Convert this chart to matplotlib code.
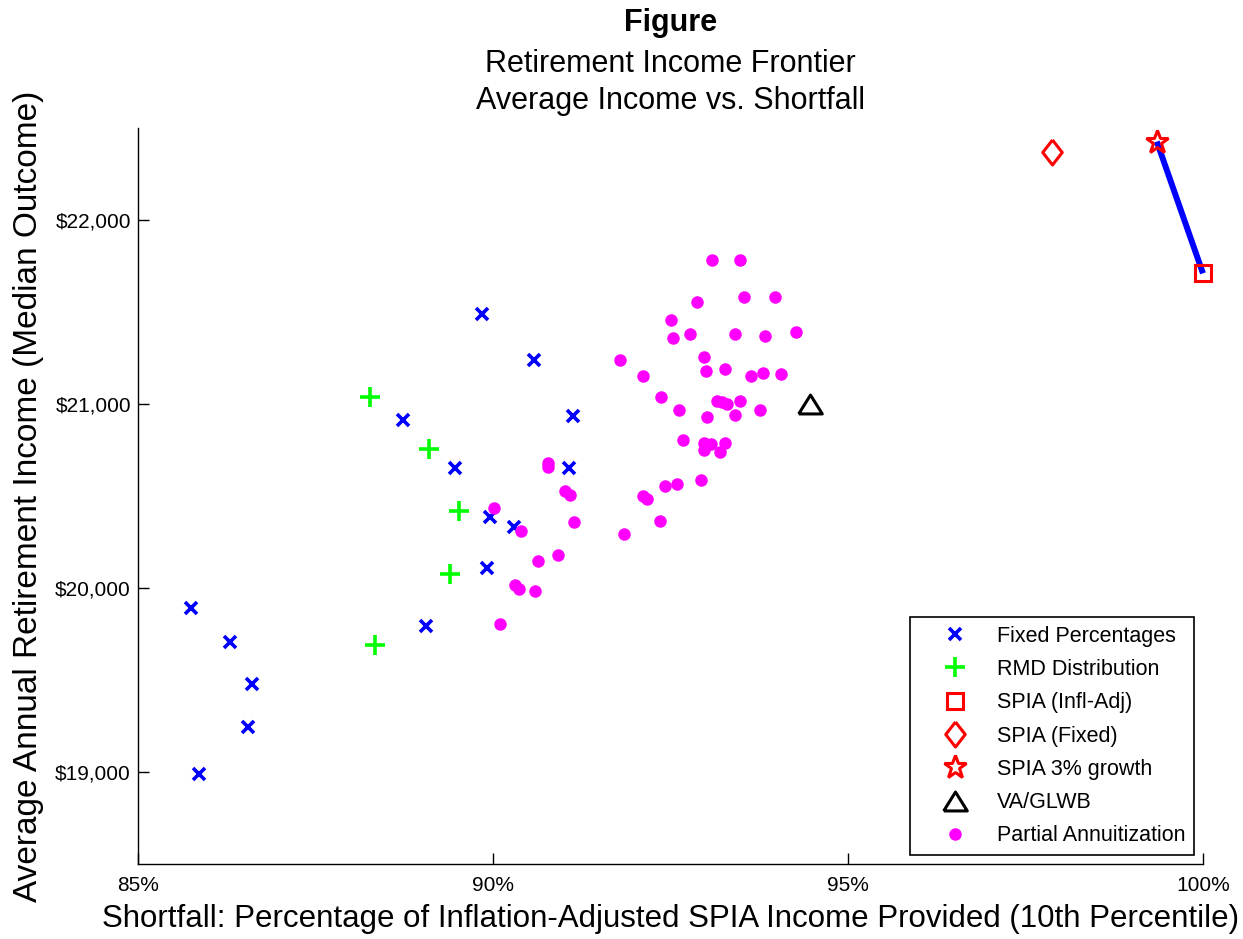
import numpy as np
import matplotlib
matplotlib.use("Agg")
import matplotlib.pyplot as plt

#-------data (x: % of infl-adj SPIA income, y: avg income $)-------
fixed_x = [85.74, 86.30, 86.60, 86.55, 85.86, 89.84, 90.58, 91.13, 88.73,
           89.47, 91.07, 89.96, 90.30, 89.91, 89.05]
fixed_y = [19890, 19708, 19477, 19246, 18989, 21489, 21239, 20935, 20913,
           20654, 20654, 20384, 20333, 20110, 19794]

rmd_x = [88.27, 89.10, 89.52, 89.40, 88.34]
rmd_y = [21040, 20754, 20419, 20074, 19689]

spia_infl_x, spia_infl_y = [100.0], [21710]
spia_fixed_x, spia_fixed_y = [97.87], [22371]
spia_grow_x, spia_grow_y = [99.35], [22426]
va_x, va_y = [94.47], [20998]

partial_x = [93.09, 93.48, 92.88, 93.53, 93.97, 92.51, 92.54, 92.77, 93.41,
             93.83, 94.27, 91.79, 92.97, 93.00, 93.27, 92.12, 93.64, 93.81,
             94.06, 92.37, 93.15, 93.22, 93.30, 93.48, 92.62, 93.02, 93.41,
             93.76, 92.67, 92.97, 93.07, 92.97, 93.27, 93.20, 92.93, 92.42,
             92.59, 92.11, 92.17, 92.35, 91.84, 90.78, 90.78, 91.02, 91.08,
             91.14, 90.92, 90.63, 90.31, 90.37, 90.59, 90.10, 90.01, 90.40]
partial_y = [21783, 21783, 21553, 21582, 21582, 21455, 21360, 21381, 21381,
             21371, 21390, 21238, 21254, 21179, 21190, 21152, 21152, 21170,
             21161, 21037, 21018, 21009, 21000, 21016, 20969, 20931, 20940,
             20969, 20806, 20790, 20781, 20750, 20790, 20738, 20587, 20556,
             20564, 20500, 20482, 20366, 20292, 20680, 20655, 20529, 20507,
             20360, 20179, 20147, 20016, 19995, 19982, 19803, 20433, 20310]

xticks = [85, 90, 95, 100]
yticks = [19000, 20000, 21000, 22000]

#-------style-------
plt.rcParams['font.family'] = ['Liberation Sans', 'DejaVu Sans']
BLUE = (0, 0, 1)
GREEN = (0, 1, 0)
RED = (1, 0, 0)
MAGENTA = (1, 0, 1)

diamond = [(0, 1), (0.78, 0), (0, -1), (-0.78, 0), (0, 1)]
triangle = [(-1, -0.8), (1, -0.8), (0, 0.8), (-1, -0.8)]

#-------graph-------
fig = plt.figure(figsize=(12.43, 9.39), dpi=100)
ax = fig.add_axes([0.1110, 0.0799, 0.8568, 0.7838])

# line joining the 3% growth SPIA and the inflation-adjusted SPIA
ax.plot(spia_grow_x + spia_infl_x, spia_grow_y + spia_infl_y,
        color=BLUE, linewidth=4.3, solid_capstyle='butt', zorder=2,
        clip_on=False)

ax.plot(fixed_x, fixed_y, linestyle='none', marker='x', markersize=9,
        markeredgewidth=2.6, color=BLUE, label='Fixed Percentages', zorder=3)
ax.plot(rmd_x, rmd_y, linestyle='none', marker='+', markersize=14,
        markeredgewidth=2.6, color=GREEN, label='RMD Distribution', zorder=3)
ax.plot(spia_infl_x, spia_infl_y, linestyle='none', marker='s',
        markersize=11.5, markeredgewidth=2.2, markerfacecolor='none',
        markeredgecolor=RED, label='SPIA (Infl-Adj)', zorder=3,
        clip_on=False)
ax.plot(spia_fixed_x, spia_fixed_y, linestyle='none', marker=diamond,
        markersize=18, markeredgewidth=2.2, markerfacecolor='none',
        markeredgecolor=RED, label='SPIA (Fixed)', zorder=3, clip_on=False)
ax.plot(spia_grow_x, spia_grow_y, linestyle='none', marker='*',
        markersize=17, markeredgewidth=2.2, markerfacecolor='none',
        markeredgecolor=RED, label='SPIA 3% growth', zorder=3, clip_on=False)
ax.plot(va_x, va_y, linestyle='none', marker=triangle, markersize=17,
        markeredgewidth=2.2, markerfacecolor='none', markeredgecolor='k',
        label='VA/GLWB', zorder=3)
ax.plot(partial_x, partial_y, linestyle='none', marker='o', markersize=9,
        markeredgewidth=0, color=MAGENTA, label='Partial Annuitization',
        zorder=3)

# axes setting
ax.set_xlim(85, 100)
ax.set_ylim(18500, 22500)
ax.set_xticks(xticks)
ax.set_xticklabels(["%d%%" % t for t in xticks])
ax.set_yticks(yticks)
ax.set_yticklabels(["${:,}".format(t) for t in yticks])
ax.tick_params(direction='in', length=8, width=1, labelsize=15)
ax.tick_params(axis='x', pad=9)
ax.tick_params(axis='y', pad=5)
for side in ['top', 'right']:
    ax.spines[side].set_visible(False)
for side in ['left', 'bottom']:
    ax.spines[side].set_linewidth(1)

ax.set_xlabel("Shortfall: Percentage of Inflation-Adjusted SPIA Income "
              "Provided (10th Percentile)", fontsize=22.5, labelpad=6)
ax.set_ylabel("Average Annual Retirement Income (Median Outcome)",
              fontsize=24, labelpad=8)

ax.set_title("Retirement Income Frontier\nAverage Income vs. Shortfall",
             fontsize=22, pad=14, linespacing=1.3)
ax.annotate("Figure", xy=(0.5, 1.0), xycoords='axes fraction',
            xytext=(0, 65), textcoords='offset points', ha='center',
            va='bottom', fontsize=22, fontweight='bold')

leg = ax.legend(loc='lower right', fontsize=15.5, frameon=True,
                fancybox=False, edgecolor='k', framealpha=1,
                borderaxespad=0.42, borderpad=0.4, handlelength=3.4,
                handletextpad=0.22, labelspacing=0.57, numpoints=1)
leg.get_frame().set_linewidth(1.2)

fig.savefig("out.png", dpi=100)
